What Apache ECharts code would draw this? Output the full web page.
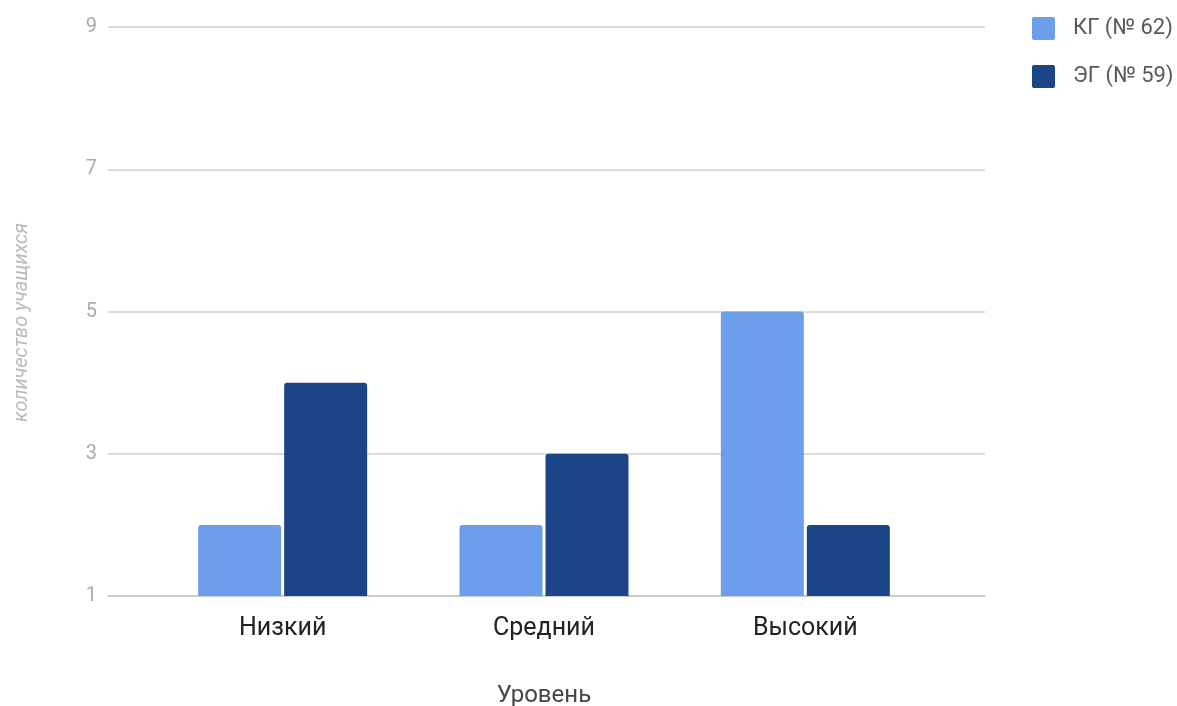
<!DOCTYPE html>
<html>
<head>
<meta charset="utf-8">
<script src="https://cdn.jsdelivr.net/npm/echarts@6/dist/echarts.min.js"></script>
<style>html,body{margin:0;padding:0;background:#fff;}#c{width:1177px;height:706px;}</style>
</head>
<body>
<div id="c"></div>
<script>
const categories = ['Низкий', 'Средний', 'Высокий'];
const seriesNames = ['КГ (№ 62)', 'ЭГ (№ 59)'];
const kgValues = [2, 2, 5];
const egValues = [4, 3, 2];
const yTicks = [1, 3, 5, 7, 9];

const chart = echarts.init(document.getElementById('c'));
const font = 'Roboto, "Noto Sans", sans-serif';
const sq = 'path://M2,0H21Q23,0 23,2V21Q23,23 21,23H2Q0,23 0,21V2Q0,0 2,0Z';
chart.setOption({
  animation: false,
  textStyle: { fontFamily: font },
  legend: {
    orient: 'vertical', left: 1027, top: 12, padding: 5,
    itemWidth: 23, itemHeight: 23, itemGap: 25,
    icon: sq,
    textStyle: { fontSize: 22, color: '#595959', fontFamily: font, padding: [0, 0, 0, 13] },
    data: seriesNames
  },
  grid: [
    { left: 108, right: 192, top: 27, bottom: 110, containLabel: false, outerBoundsMode: 'none' },
    { left: 152, right: 241, top: 27, bottom: 110, containLabel: false, outerBoundsMode: 'none' }
  ],
  xAxis: [
    { gridIndex: 0, type: 'value', min: 0, max: 1, show: true,
      axisLine: { show: true, onZero: false, lineStyle: { color: '#c6c6c6', width: 1.5 } },
      axisLabel: { show: false }, axisTick: { show: false }, splitLine: { show: false } },
    { gridIndex: 1, type: 'category', data: categories,
      axisLine: { show: false }, axisTick: { show: false },
      axisLabel: { fontSize: 25, color: '#222', margin: 20, fontFamily: font },
      name: 'Уровень', nameLocation: 'middle', nameGap: 88,
      nameTextStyle: { fontSize: 24, color: '#444', fontFamily: font } }
  ],
  yAxis: [
    { gridIndex: 0, type: 'value', min: yTicks[0], max: yTicks[yTicks.length - 1], interval: 2,
      axisLine: { show: false }, axisTick: { show: false },
      axisLabel: { fontSize: 20, color: '#aaa', margin: 11, fontFamily: font },
      splitLine: { lineStyle: { color: '#cfcfcf', width: 1.5 } },
      name: 'количество учащихся', nameLocation: 'middle', nameGap: 76,
      nameTextStyle: { fontSize: 20, color: '#bbb', fontStyle: 'italic', fontFamily: font, padding: [0, 0, 0, -22] } },
    { gridIndex: 1, type: 'value', min: yTicks[0], max: yTicks[yTicks.length - 1], interval: 2, show: false,
      splitLine: { show: false } }
  ],
  series: [
    { name: seriesNames[0], type: 'bar', xAxisIndex: 1, yAxisIndex: 1, data: kgValues,
      barWidth: 83, barGap: '3.6%',
      itemStyle: { color: '#6d9eeb', borderRadius: [3, 3, 0, 0] } },
    { name: seriesNames[1], type: 'bar', xAxisIndex: 1, yAxisIndex: 1, data: egValues,
      barWidth: 83, barGap: '3.6%',
      itemStyle: { color: '#1c4587', borderRadius: [3, 3, 0, 0] } }
  ]
});
</script>
</body>
</html>
